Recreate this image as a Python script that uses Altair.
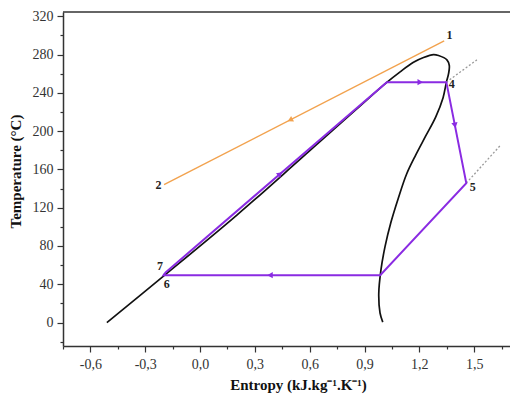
import json
import math
import altair as alt
import pandas as pd

# ---------------- data ----------------
# saturation dome (entropy kJ/kg/K, temperature °C)
sat_s = [-0.51, -0.2, 0.2, 0.55, 0.85, 1.022, 1.095, 1.168, 1.223, 1.278, 1.305,
         1.351, 1.364, 1.36, 1.348, 1.33, 1.29, 1.235, 1.18, 1.13, 1.085, 1.045,
         1.012, 0.99, 0.978, 0.985, 1.0]
sat_t = [0, 48.5, 112, 171, 222, 251, 262, 272, 277, 280, 279,
         274.5, 268.6, 260, 251, 235, 215, 195, 175, 155, 130, 105,
         79, 55, 30, 10, 0.5]

# heat-source line 1 -> 2
src_s = [1.336, -0.197]
src_t = [294.4, 144.0]

# ORC cycle 7 -> sat. liquid -> 4 -> 5 -> sat. vapour -> 6 -> 7
cyc_s = [-0.192, 1.022, 1.348, 1.457, 0.986, -0.2, -0.192]
cyc_t = [51.8, 251.2, 251.2, 145.7, 49.5, 49.5, 51.8]

# dotted extensions (segment id, s, t)
dot_seg = ["a", "a", "b", "b"]
dot_s = [1.348, 1.515, 1.457, 1.643]
dot_t = [251.2, 274.5, 145.7, 185.0]

# arrow heads: position and the segment (start/end) they follow
arr_s = [0.493, 0.438, 1.205, 1.395, 0.383]
arr_t = [211.7, 155.3, 251.2, 206.0, 49.5]
arr_from_s = [1.336, -0.192, 1.022, 1.348, 0.986]
arr_from_t = [294.4, 51.8, 251.2, 251.2, 49.5]
arr_to_s = [-0.197, 1.022, 1.348, 1.457, -0.2]
arr_to_t = [144.0, 251.2, 251.2, 145.7, 49.5]
arr_kind = ["src", "cyc", "cyc", "cyc", "cyc"]

# state point labels
lbl_text = ["1", "2", "4", "5", "6", "7"]
lbl_s = [1.365, -0.228, 1.378, 1.493, -0.182, -0.219]
lbl_t = [300.0, 143.6, 249.5, 141.5, 40.7, 58.8]

x_ticks = [-0.6, -0.3, 0.0, 0.3, 0.6, 0.9, 1.2, 1.5]
x_minor = [-0.75, -0.45, -0.15, 0.15, 0.45, 0.75, 1.05, 1.35, 1.65]
y_ticks = [0, 40, 80, 120, 160, 200, 240, 280, 320]
y_minor = [-20, 20, 60, 100, 140, 180, 220, 260, 300]

# ---------------- layout / style ----------------
W, H = 455, 334
X_DOM = [-0.75, 1.74]
Y_DOM = [-24.5, 324.5]
SERIF = "Liberation Serif"
AX = "#333333"
ORANGE = "#F2A24E"
PURPLE = "#8A2BE2"

px_per_s = W / (X_DOM[1] - X_DOM[0])
px_per_t = H / (Y_DOM[1] - Y_DOM[0])

xt = json.dumps(x_ticks)
yt = json.dumps(y_ticks)

x_axis = alt.Axis(
    values=x_ticks + x_minor,
    labelExpr=f"indexof({xt}, datum.value) >= 0 ? replace(replace(format(datum.value, '.1f'), '.', ','), '\u2212', '-') : ''",
    tickSize={"condition": {"test": f"indexof({xt}, datum.value) >= 0", "value": 6}, "value": 3},
    title="Entropy (kJ.kg\u207b\u00b9.K\u207b\u00b9)",
    titleX=235,
    titlePadding=6,
    labelPadding=5,
    labelOverlap=False,
    labelFlush=False,
    grid=False,
)
y_axis = alt.Axis(
    values=y_ticks + y_minor,
    labelExpr=f"indexof({yt}, datum.value) >= 0 ? datum.label : ''",
    tickSize={"condition": {"test": f"indexof({yt}, datum.value) >= 0", "value": 6}, "value": 3},
    title="Temperature (\u00b0C)",
    titleY=159,
    titlePadding=9,
    labelPadding=4,
    labelOverlap=False,
    labelFlush=False,
    grid=False,
)

xs = alt.Scale(domain=X_DOM, nice=False, zero=False)
ys = alt.Scale(domain=Y_DOM, nice=False, zero=False)


def enc():
    return dict(x=alt.X("s:Q", scale=xs, axis=x_axis),
                y=alt.Y("t:Q", scale=ys, axis=y_axis))


sat_df = pd.DataFrame({"s": sat_s, "t": sat_t, "i": range(len(sat_s))})
src_df = pd.DataFrame({"s": src_s, "t": src_t, "i": range(len(src_s))})
cyc_df = pd.DataFrame({"s": cyc_s, "t": cyc_t, "i": range(len(cyc_s))})
dot_df = pd.DataFrame({"seg": dot_seg, "s": dot_s, "t": dot_t})
angles = []
for fs, ft, ts, tt in zip(arr_from_s, arr_from_t, arr_to_s, arr_to_t):
    dx = (ts - fs) * px_per_s
    dy = -(tt - ft) * px_per_t
    angles.append(math.degrees(math.atan2(dy, dx)) % 360)
arr_df = pd.DataFrame({"s": arr_s, "t": arr_t, "ang": angles, "kind": arr_kind})
lbl_df = pd.DataFrame({"s": lbl_s, "t": lbl_t, "txt": lbl_text})

sat = alt.Chart(sat_df).mark_line(color="#111111", strokeWidth=1.7, interpolate="catmull-rom").encode(
    order=alt.Order("i:Q"), **enc())
src = alt.Chart(src_df).mark_line(color=ORANGE, strokeWidth=1.4).encode(
    order=alt.Order("i:Q"), **enc())
dots = alt.Chart(dot_df).mark_line(color="#9a9a9a", strokeWidth=1.3, strokeDash=[2, 2]).encode(
    detail="seg:N", **enc())
cyc = alt.Chart(cyc_df).mark_line(color=PURPLE, strokeWidth=2, strokeJoin="miter").encode(
    order=alt.Order("i:Q"), **enc())
arrows = alt.Chart(arr_df).mark_point(shape="triangle-right", filled=True, opacity=1, size=40).encode(
    angle=alt.Angle("ang:Q", scale=None),
    color=alt.Color("kind:N", scale=alt.Scale(domain=["src", "cyc"], range=[ORANGE, PURPLE]), legend=None),
    **enc())
labels = alt.Chart(lbl_df).mark_text(font=SERIF, fontSize=12, fontWeight="bold", color="#222222",
                                     align="center", baseline="middle").encode(
    text="txt:N", **enc())
frame = alt.Chart(pd.DataFrame({"k": [0]})).mark_rule(color=AX, strokeWidth=1.5).encode(
    x=alt.value(0), x2=alt.value(W), y=alt.value(0))

chart = alt.layer(sat, src, dots, cyc, arrows, labels, frame).properties(
    width=W, height=H,
    autosize=alt.AutoSizeParams(type="none"),
    padding={"left": 55, "top": 4, "right": -8, "bottom": 48},
).configure_view(strokeWidth=0).configure_axis(
    domainColor=AX, domainWidth=1.5, tickColor=AX, tickWidth=1.2,
    labelFont=SERIF, labelFontSize=14, labelColor="#333333",
    titleFont=SERIF, titleFontSize=15, titleFontWeight="bold", titleColor="#111111",
)

chart.save("out.html", embed_options={"renderer": "svg", "actions": False})
